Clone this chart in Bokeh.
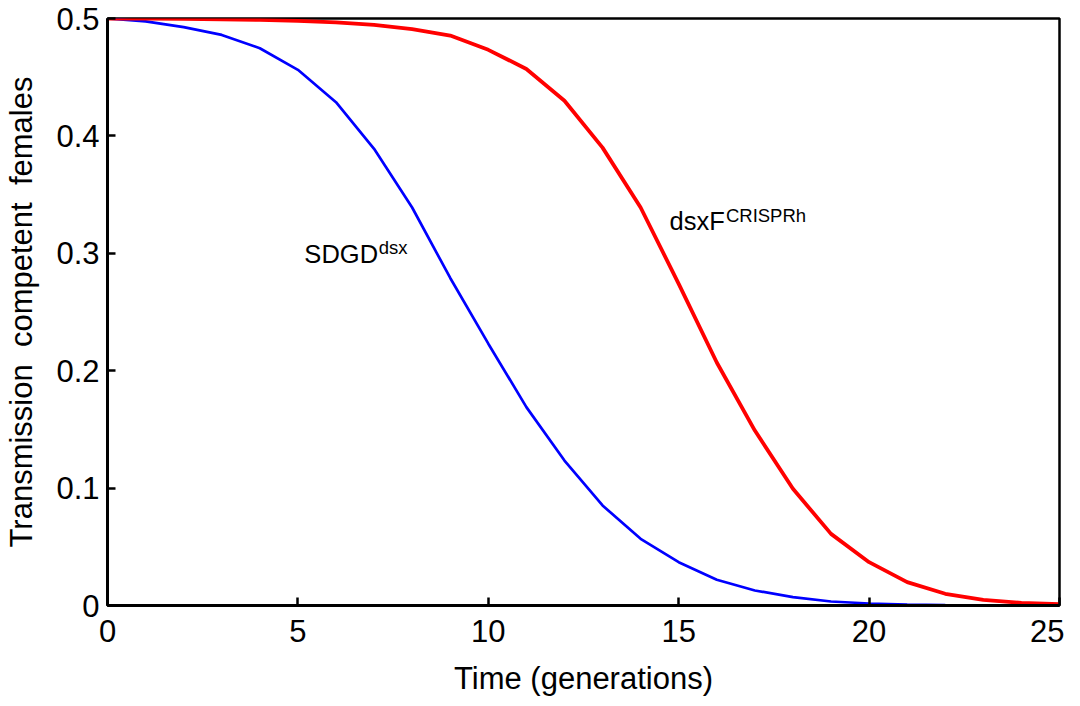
from bokeh.plotting import figure
from bokeh.models import Range1d, FixedTicker
from bokeh.core.properties import value
from bokeh.embed import file_html
from bokeh.resources import INLINE

# ---- data ----
generations = list(range(0, 26))
sdgd_dsx = [0.5, 0.4975, 0.4926, 0.486, 0.4747, 0.4563, 0.4287, 0.389, 0.339, 0.279,
            0.223, 0.169, 0.1235, 0.0852, 0.0568, 0.0369, 0.0219, 0.0128, 0.0071, 0.0034,
            0.0017, 0.0008, 0.0004, 0.0002, 0.0001, 0.00005]
dsxf_crisprh = [0.5, 0.4999, 0.4997, 0.4993, 0.4988, 0.498, 0.4967, 0.4945, 0.491, 0.4855,
                0.4733, 0.457, 0.430, 0.390, 0.339, 0.274, 0.207, 0.149, 0.0994, 0.061,
                0.0369, 0.0199, 0.010, 0.0048, 0.0023, 0.0012]

x_ticks = [0, 5, 10, 15, 20, 25]
x_tick_labels = ["0", "5", "10", "15", "20", "25"]
y_ticks = [0, 0.1, 0.2, 0.3, 0.4, 0.5]
y_tick_labels = ["0", "0.1", "0.2", "0.3", "0.4", "0.5"]

label_base = ["SDGD", "dsxF"]
label_base_x = [5.17, 14.76]
label_base_y = [0.2995, 0.3278]
label_sup = ["dsx", "CRISPRh"]
label_sup_x = [7.12, 16.24]
label_sup_y = [0.3052, 0.3322]

FONT = "Liberation Sans"
NB = "\u00a0\u00a0"

p = figure(width=1064, height=698, output_backend="svg", toolbar_location=None,
           x_range=Range1d(0, 25), y_range=Range1d(0, 0.5),
           min_border_left=107, min_border_right=5, min_border_top=18, min_border_bottom=93)
p.background_fill_color = "white"
p.border_fill_color = "white"
p.grid.visible = False
p.outline_line_color = "black"
p.outline_line_width = 2.5
p.outline_line_alpha = 1.0

p.line(generations, sdgd_dsx, line_color="#0000FF", line_width=2.7)
p.line(generations, dsxf_crisprh, line_color="#FF0000", line_width=3.8)

p.text(x=label_base_x, y=label_base_y, text=label_base, text_font=value(FONT),
       text_font_size="25.5px", text_color="black", text_baseline="alphabetic", text_align="left")
p.text(x=label_sup_x, y=label_sup_y, text=label_sup, text_font=value(FONT),
       text_font_size="18.5px", text_color="black", text_baseline="alphabetic", text_align="left")

for ax, ticks, labels in ((p.xaxis[0], x_ticks, x_tick_labels), (p.yaxis[0], y_ticks, y_tick_labels)):
    ax.ticker = FixedTicker(ticks=ticks, minor_ticks=[])
    ax.major_label_overrides = {t: l for t, l in zip(ticks, labels)}
    ax.axis_line_color = "black"
    ax.axis_line_width = 3
    ax.major_tick_line_color = "black"
    ax.major_tick_line_width = 2.5
    ax.major_tick_in = 8
    ax.major_tick_out = 0
    ax.minor_tick_line_color = None
    ax.major_label_text_font = FONT
    ax.major_label_text_font_size = "31px"
    ax.major_label_text_color = "black"
    ax.axis_label_text_font = FONT
    ax.axis_label_text_font_size = "31px"
    ax.axis_label_text_font_style = "normal"
    ax.axis_label_text_color = "black"

p.xaxis.axis_label = "Time (generations)"
p.yaxis.axis_label = "Transmission" + NB + "competent" + NB + "females"
p.xaxis.major_label_standoff = 14
p.yaxis.major_label_standoff = 8
p.xaxis.axis_label_standoff = 16
p.yaxis.axis_label_standoff = 14

open("out.html", "w").write(file_html(p, INLINE))
